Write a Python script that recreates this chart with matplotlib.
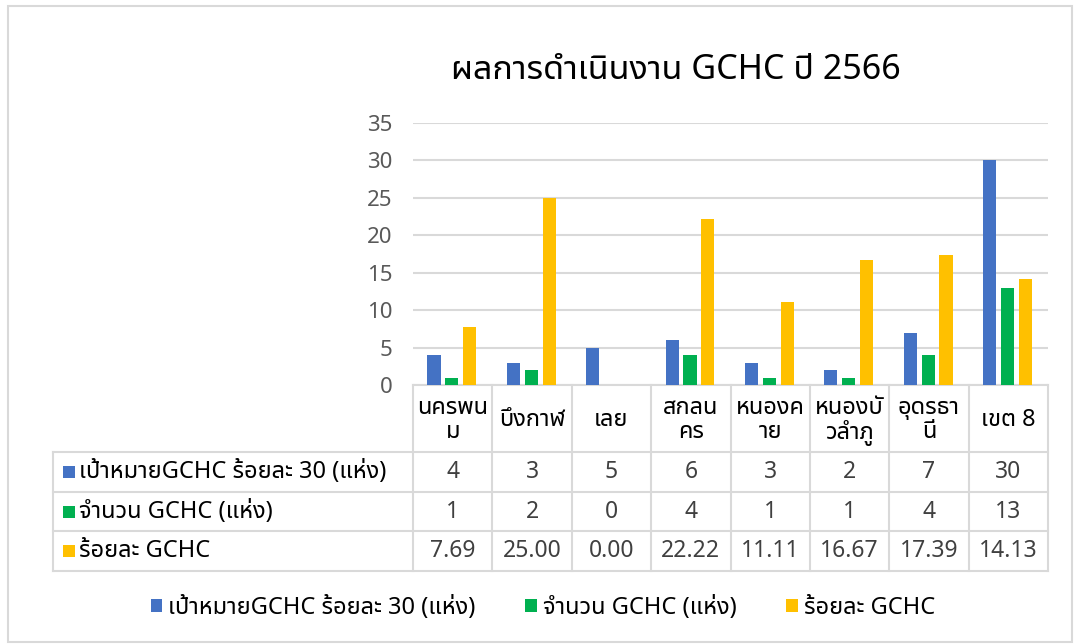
import matplotlib
matplotlib.use("Agg")
import matplotlib.pyplot as plt
from matplotlib import font_manager
from matplotlib.ft2font import FT2Font
from matplotlib.patches import Rectangle
from matplotlib.lines import Line2D

# ---------------- data ----------------
categories = ["นครพนม", "บึงกาฬ", "เลย", "สกลนคร", "หนองคาย", "หนองบัวลำภู", "อุดรธานี", "เขต 8"]
category_labels = ["นครพน\nม", "บึงกาฬ", "เลย", "สกลน\nคร", "หนองค\nาย", "หนองบั\nวลำภู", "อุดรธา\nนี", "เขต 8"]
series_names = ["เป้าหมายGCHC ร้อยละ 30 (แห่ง)", "จำนวน GCHC (แห่ง)", "ร้อยละ GCHC"]
target = [4, 3, 5, 6, 3, 2, 7, 30]
count = [1, 2, 0, 4, 1, 1, 4, 13]
percent = [7.69, 25.00, 0.00, 22.22, 11.11, 16.67, 17.39, 14.13]
y_ticks = [0, 5, 10, 15, 20, 25, 30, 35]
title = "ผลการดำเนินงาน GCHC ปี 2566"

series_values = [target, count, percent]
table_text = [[str(v) for v in target], [str(v) for v in count], [f"{v:.2f}" for v in percent]]
colors = ["#4472C4", "#00B050", "#FFC000"]

# ---------------- fonts ----------------
def find_thai_font():
    paths = set()
    try:
        paths.update(font_manager.findSystemFonts())
    except Exception:
        pass
    for fe in font_manager.fontManager.ttflist:
        paths.add(fe.fname)
    found = []
    for p in sorted(paths):
        try:
            cm = FT2Font(p).get_charmap()
        except Exception:
            continue
        if 0x0E01 in cm and 0x0E33 in cm and 0x0E49 in cm:
            try:
                font_manager.fontManager.addfont(p)
                name = font_manager.FontProperties(fname=p).get_name()
            except Exception:
                continue
            found.append((p, name))
    def score(item):
        p, n = item
        s = 0
        low = (p + n).lower()
        if "noto sans thai" in n.lower():
            s -= 100
        if "thai" in low:
            s -= 10
        if "sans" in low:
            s -= 5
        if "bold" in low or "italic" in low or "oblique" in low:
            s += 50
        if "looped" in low:
            s += 20
        return s
    found.sort(key=score)
    return found[0][1] if found else None

thai = find_thai_font()
families = ["Noto Sans"]
if thai:
    families.append(thai)
families.append("DejaVu Sans")
plt.rcParams["font.family"] = families

# ---------------- layout ----------------
W, H = 1081, 644
fig = plt.figure(figsize=(W / 100, H / 100), dpi=100)
fig.patch.set_facecolor("white")

def fx(px):
    return px / W

def fy(py):
    return 1 - py / H

grid_c = "#D9D9D9"
text_c = "#404040"

# outer chart border
fig.add_artist(Rectangle((fx(8), fy(642)), fx(1072) - fx(8), fy(6) - fy(642),
                         transform=fig.transFigure, fill=False, edgecolor=grid_c, lw=1.5))

ax_l, ax_r, ax_t, ax_b = 413, 1048, 123, 385
ax = fig.add_axes([fx(ax_l), fy(ax_b), fx(ax_r) - fx(ax_l), fy(ax_t) - fy(ax_b)])
n = len(categories)
ax.set_xlim(-0.5, n - 0.5)
ax.set_ylim(y_ticks[0], y_ticks[-1])
ax.set_yticks(y_ticks)
ax.set_yticklabels([str(t) for t in y_ticks], fontsize=16, color="#595959")
ax.set_xticks([])
ax.tick_params(axis="y", length=0, pad=15)
ax.grid(axis="y", color=grid_c, lw=1.5)
ax.set_axisbelow(True)
for s in ["top", "right", "left"]:
    ax.spines[s].set_visible(False)
ax.spines["bottom"].set_color(grid_c)
ax.spines["bottom"].set_linewidth(1.5)

bw = 0.165
offsets = [-0.235, -0.01, 0.215]
xs = list(range(n))
for vals, off, c, name in zip(series_values, offsets, colors, series_names):
    ax.bar([x + off for x in xs], vals, width=bw, color=c, label=name, zorder=3)

# title
fig.text(fx(676), fy(70), title, ha="center", va="center", fontsize=24.5, color="#000000")

# ---------------- data table ----------------
def data_fx(x):
    disp = ax.transData.transform((x, 0))
    return fig.transFigure.inverted().transform(disp)[0]

bounds = [data_fx(i - 0.5) for i in range(n + 1)]
centers = [data_fx(i) for i in range(n)]
tab_left = fx(53)
row_lines = [452, 492, 531, 571]

def hline(x0, x1, y):
    fig.add_artist(Line2D([x0, x1], [fy(y), fy(y)], transform=fig.transFigure, color=grid_c, lw=1.5))

def vline(x, y0, y1):
    fig.add_artist(Line2D([x, x], [fy(y0), fy(y1)], transform=fig.transFigure, color=grid_c, lw=1.5))

# header row (category names)
for b in bounds:
    vline(b, ax_b, row_lines[-1])
vline(tab_left, row_lines[0], row_lines[-1])
for y in row_lines:
    hline(tab_left, bounds[-1], y)
for cx, lab in zip(centers, category_labels):
    fig.text(cx, fy((ax_b + row_lines[0]) / 2 + 2), lab, ha="center", va="center",
             fontsize=17, color="#000000", linespacing=1.0)

# data rows
for r in range(3):
    ymid = (row_lines[r] + row_lines[r + 1]) / 2
    for cx, t in zip(centers, table_text[r]):
        fig.text(cx, fy(ymid), t, ha="center", va="center", fontsize=16.5, color=text_c)
    fig.add_artist(Rectangle((fx(63), fy(ymid + 6)), fx(75) - fx(63), fy(ymid - 6) - fy(ymid + 6),
                             transform=fig.transFigure, facecolor=colors[r], edgecolor="none"))
    fig.text(fx(79), fy(ymid), series_names[r], ha="left", va="center", fontsize=17, color="#000000")

# ---------------- bottom legend ----------------
handles, labels = ax.get_legend_handles_labels()
leg = fig.legend(handles, labels, loc="center", bbox_to_anchor=(fx(543), fy(608)), ncol=3,
                 frameon=False, fontsize=17, handlelength=0.5, handleheight=0.5,
                 handletextpad=0.25, columnspacing=2.1, labelcolor="#000000")

fig.savefig("out.png", dpi=100, facecolor="white")
